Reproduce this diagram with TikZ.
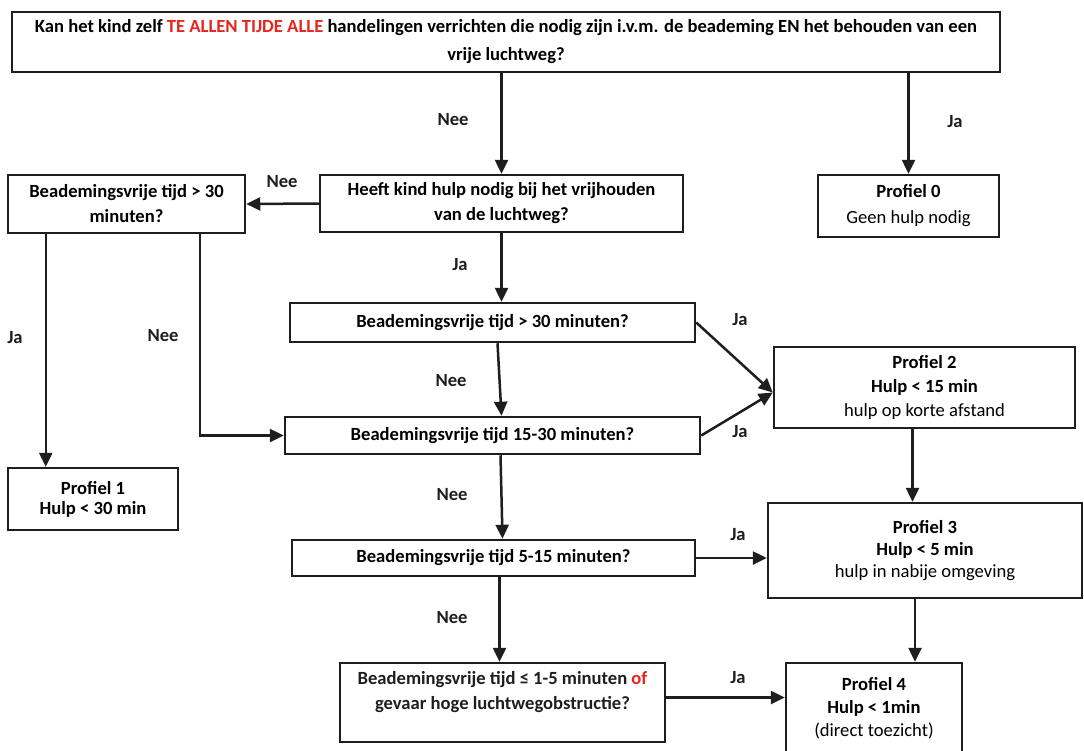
\documentclass[tikz,border=0pt]{standalone}
\usepackage{fontspec}
\setmainfont{Carlito}
\usetikzlibrary{arrows.meta,calc}
\definecolor{redtxt}{RGB}{230,38,30}
\definecolor{ink}{RGB}{30,30,30}
\begin{document}
\begin{tikzpicture}[x=1pt,y=-1pt,
  box/.style={draw=ink,line width=2.5pt,inner sep=0pt,align=center,font=\bfseries\fontsize{18.6}{25}\selectfont},
  lbl/.style={font=\bfseries\fontsize{18.6}{22}\selectfont,inner sep=0pt,text=ink},
  arr/.style={draw=ink,line width=2.5pt,-{Triangle[length=14pt,width=13pt]}},
]
\useasboundingbox (0,0) rectangle (1084,750);
\fill[white] (0,0) rectangle (1084,750);
% boxes
\node[box,minimum width=988,minimum height=60,font=\bfseries\fontsize{18.6}{28}\selectfont] (top) at (506,42)
  {Kan het kind zelf \textcolor{redtxt}{TE ALLEN TIJDE ALLE} handelingen verrichten die nodig zijn i.v.m. de beademing EN het behouden van een\\vrije luchtweg?};
\node[box,minimum width=363,minimum height=57] (heeft) at (501.5,203.5)
  {Heeft kind hulp nodig bij het vrijhouden\\van de luchtweg?};
\node[box,minimum width=237,minimum height=58] (bl) at (126.5,204)
  {Beademingsvrije tijd > 30\\minuten?};
\node[box,minimum width=181,minimum height=62,font=\bfseries\fontsize{18.6}{26}\selectfont] (p0) at (908.5,206)
  {Profiel 0\\{\mdseries Geen hulp nodig}};
\node[box,minimum width=405,minimum height=39] (b30) at (492.5,322.5)
  {Beademingsvrije tijd > 30 minuten?};
\node[box,minimum width=415,minimum height=37] (b1530) at (492.5,435.5)
  {Beademingsvrije tijd 15-30 minuten?};
\node[box,minimum width=301,minimum height=81,font=\bfseries\fontsize{18.6}{24}\selectfont] (p2) at (924.5,387.5)
  {Profiel 2\\Hulp < 15 min\\{\mdseries hulp op korte afstand}};
\node[box,minimum width=170,minimum height=62,font=\bfseries\fontsize{18.6}{20}\selectfont] (p1) at (93,499)
  {Profiel 1\\Hulp < 30 min};
\node[box,minimum width=403,minimum height=36] (b515) at (493.5,558)
  {Beademingsvrije tijd 5-15 minuten?};
\node[box,minimum width=314,minimum height=95,font=\bfseries\fontsize{18.6}{22}\selectfont] (p3) at (925,550.5)
  {Profiel 3\\Hulp < 5 min\\{\mdseries hulp in nabije omgeving}};
\node[box,minimum width=325,minimum height=79] (b15) at (502.5,702.5) {};
\node[lbl,align=center,font=\bfseries\fontsize{18.6}{25}\selectfont] (b15t) at (502.5,692.5)
  {Beademingsvrije tijd ≤ 1-5 minuten \textcolor{redtxt}{of}\\gevaar hoge luchtwegobstructie?};
\node[box,minimum width=176,minimum height=90,font=\bfseries\fontsize{18.6}{23}\selectfont] (p4) at (874,708)
  {Profiel 4\\Hulp < 1min\\{\mdseries (direct toezicht)}};
% connectors
\draw[arr] (top.south -| heeft.north) -- (heeft.north);
\draw[arr] (top.south -| p0.north) -- (p0.north);
\draw[arr] (heeft.west) -- (bl.east);
\draw[arr] ([xshift=39]bl.south west) -- ([xshift=39]bl.south west |- p1.north);
\draw[arr] ([xshift=193]bl.south west) |- (b1530.west);
\draw[arr] (heeft.south) -- (heeft.south |- b30.north);
\draw[arr] ([xshift=5]b30.south) -- ([xshift=9]b1530.north);
\coordinate (p2in) at ([yshift=-5]p2.west);
\draw[arr] (b30.east) -- (p2in);
\draw[arr] (b1530.east) -- (p2in);
\draw[arr] ([xshift=8]b1530.south) -- ([xshift=9]b515.north);
\draw[arr] (b515.east) -- (b515.east -| p3.west);
\draw[arr] ([xshift=-12]p2.south) -- ([xshift=-12]p2.south |- p3.north);
\draw[arr] ([xshift=41]p4.north |- p3.south) -- ([xshift=41]p4.north);
\draw[arr] ([xshift=6]b515.south) -- ([xshift=6]b515.south |- b15.north);
\draw[arr] ([yshift=5]b15.east) -- ([yshift=5]b15.east -| p4.west);
% labels
\node[lbl] (l1) at (453,120) {Nee};
\node[lbl] (l2) at (955,122) {Ja};
\node[lbl] (l3) at (282,182) {Nee};
\node[lbl] (l4) at (15,338) {Ja};
\node[lbl] (l5) at (163,336) {Nee};
\node[lbl] (l6) at (460,265) {Ja};
\node[lbl] (l7) at (451,381) {Nee};
\node[lbl] (l8) at (740,320) {Ja};
\node[lbl] (l9) at (740,432) {Ja};
\node[lbl] (l10) at (452,495) {Nee};
\node[lbl] (l11) at (738,535) {Ja};
\node[lbl] (l12) at (452,618) {Nee};
\node[lbl] (l13) at (738,678) {Ja};
\end{tikzpicture}
\end{document}
